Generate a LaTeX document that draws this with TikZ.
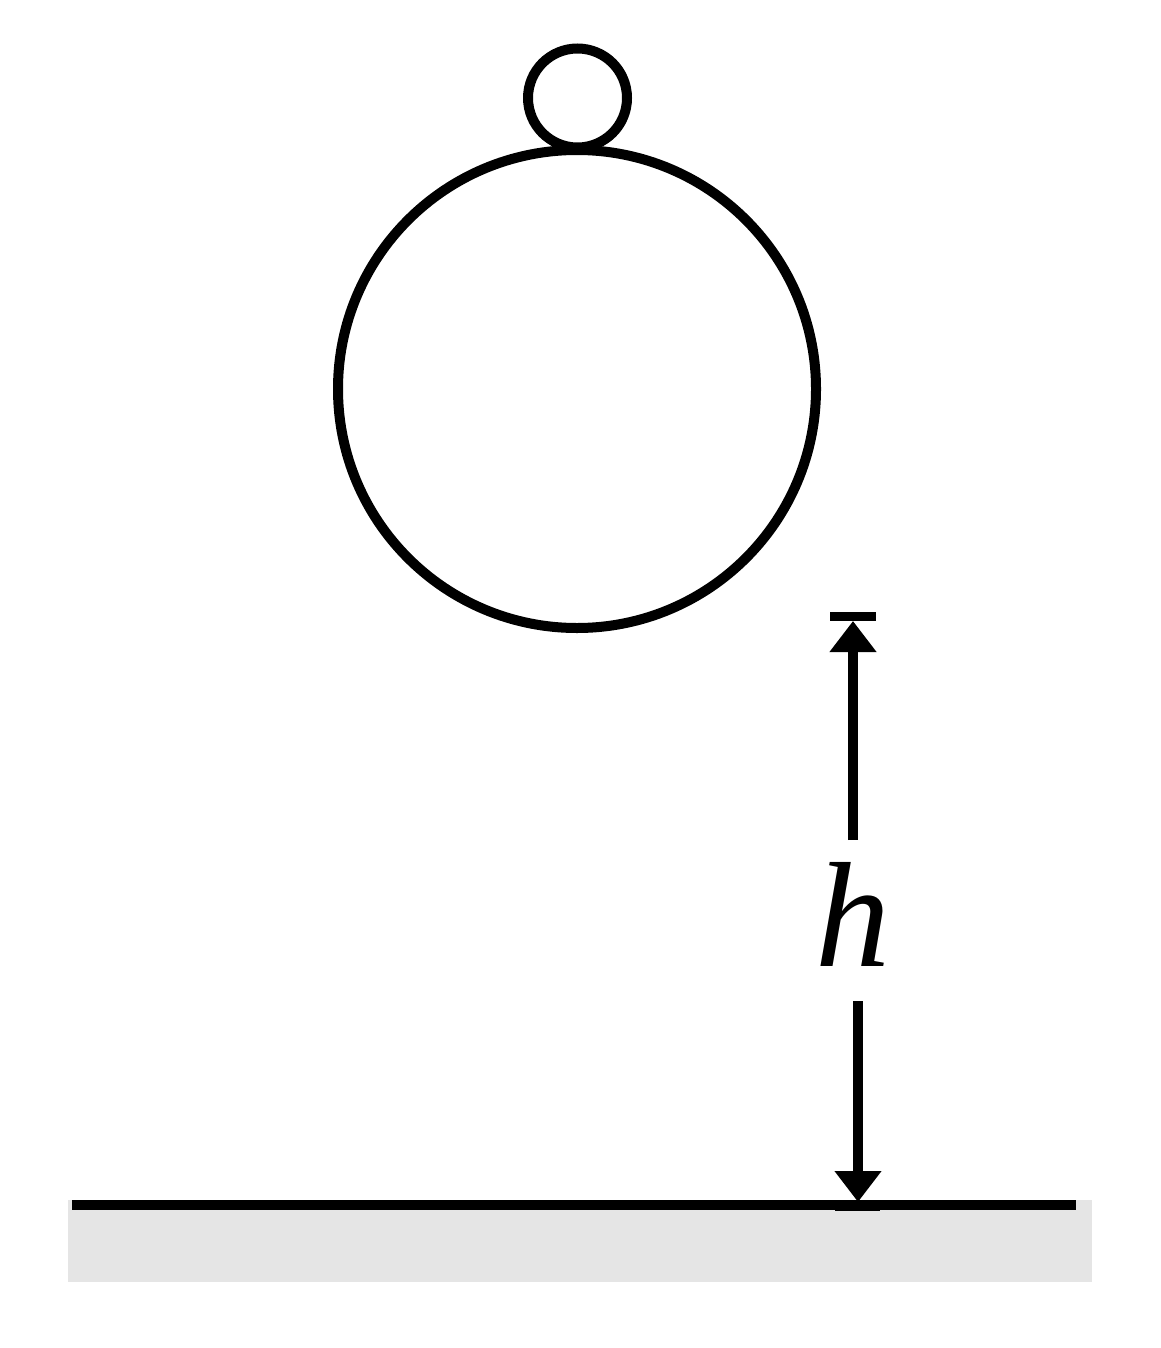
\documentclass[tikz,border=0pt]{standalone}
\usepackage{fontspec}
\setmainfont{Liberation Serif}
\usetikzlibrary{arrows.meta}
\definecolor{groundgray}{RGB}{229,229,229}
\tikzset{
  outline/.style={draw=black, line width=10pt},
  shaft/.style={draw=black, line width=10pt, -{Triangle[length=31pt,width=45pt]}},
  endbar/.style={draw=black, line width=9pt},
}
\begin{document}
\begin{tikzpicture}[x=1pt,y=-1pt]
\useasboundingbox (0,0) rectangle (1160,1348);
% ground
\fill[groundgray] (68,1200) rectangle (1092,1282);
% dimension end bars
\coordinate (topbarL) at (830,616.5);
\coordinate (topbarR) at (876,616.5);
\coordinate (botbarL) at (835,1206);
\coordinate (botbarR) at (880,1206);
\draw[endbar] (topbarL) -- (topbarR);
\draw[endbar] (botbarL) -- (botbarR);
% ground line
\coordinate (gL) at (72,1205);
\coordinate (gR) at (1076,1205);
\draw[draw=black, line width=10pt] (gL) -- (gR);
% balls
\node[circle, outline, minimum size=478pt, inner sep=0pt] (big) at (577,389) {};
\node[circle, outline, minimum size=99pt, inner sep=0pt] (small) at (577.5,98) {};
% dimension
\node[inner sep=0pt, font=\itshape\fontsize{150}{150}\selectfont] (h) at (853,914) {h};
\coordinate (upstart) at (853,840);
\coordinate (uptip) at (853,621);
\coordinate (downstart) at (858,1001);
\coordinate (downtip) at (858,1202);
\draw[shaft] (upstart) -- (uptip);
\draw[shaft] (downstart) -- (downtip);
\end{tikzpicture}
\end{document}
